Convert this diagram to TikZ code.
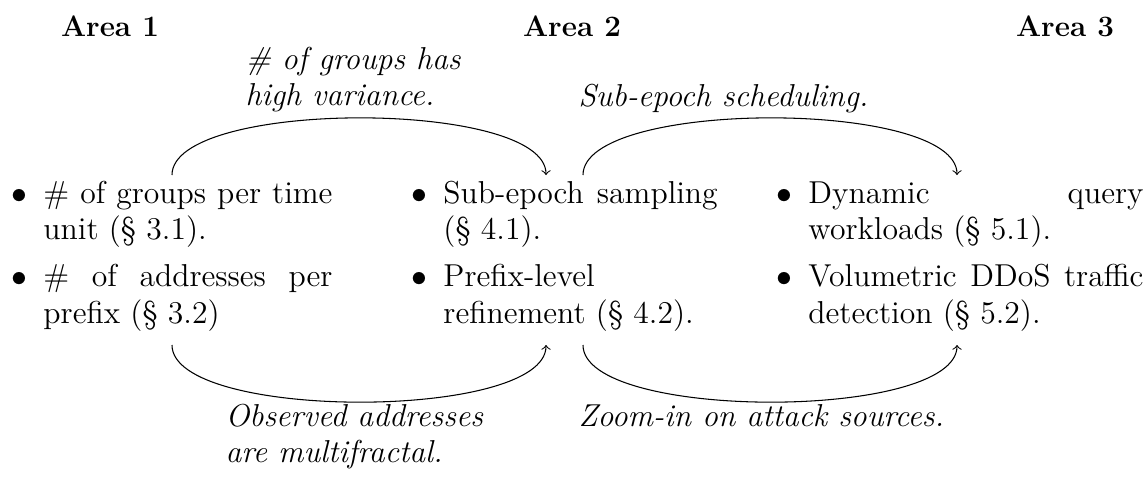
\documentclass[tikz,border=0pt]{standalone}
\tikzset{
  colnode/.style={anchor=base west, inner sep=0pt},
  hdr/.style={anchor=base, inner sep=0pt, font=\fontsize{11.2}{13}\selectfont\bfseries},
  lbl/.style={anchor=base west, inner sep=0pt},
  flow/.style={->, line width=0.4pt},
}
\newcommand{\itm}[1]{\noindent\hangindent=12.1pt\hangafter=1\makebox[12.1pt][l]{$\bullet$}#1\par}
\newcommand{\colbox}[2]{\parbox[t]{#1}{\fontsize{12}{14}\selectfont\setlength{\parskip}{3.5pt}#2}}
\newcommand{\lblbox}[1]{\parbox[t]{160pt}{\fontsize{12}{14}\selectfont\itshape #1}}
\begin{document}
\begin{tikzpicture}[x=0.3788pt,y=-0.3788pt]
\useasboundingbox (0,0) rectangle (1143,479);
% headers
\node[hdr] (h1) at (110,36) {Area 1};
\node[hdr] (h2) at (572,36) {Area 2};
\node[hdr] (h3) at (1065,36) {Area 3};
% columns
\node[colnode] (c1) at (11,203) {\colbox{121.6pt}{%
  \itm{\# of groups per time\linebreak unit (\S~3.1).}%
  \itm{\# of addresses per\linebreak prefix (\S~3.2)}}};
\node[colnode] (c2) at (411,203) {\colbox{116pt}{%
  \itm{Sub-epoch sampling\linebreak (\S~4.1).}%
  \itm{Prefix-level\newline refinement (\S~4.2).}}};
\node[colnode] (c3) at (776,203) {\colbox{139pt}{%
  \itm{Dynamic query\linebreak workloads (\S~5.1).}%
  \itm{Volumetric DDoS traffic\linebreak detection (\S~5.2).}}};
% labels
\node[lbl] (l1) at (245,69) {\lblbox{\# of groups has\\high variance.}};
\node[lbl] (l2) at (578,106) {\lblbox{Sub-epoch scheduling.}};
\node[lbl] (l3) at (225,426) {\lblbox{Observed addresses\\are multifractal.}};
\node[lbl] (l4) at (578,426) {\lblbox{Zoom-in on attack sources.}};
% arc end points
\coordinate (a1s) at (172,175);
\coordinate (a1e) at (546,175);
\coordinate (a2s) at (583,175);
\coordinate (a2e) at (957,175);
\coordinate (a3s) at (172,345);
\coordinate (a3e) at (546,345);
\coordinate (a4s) at (583,345);
\coordinate (a4e) at (957,345);
\draw[flow] (a1s) .. controls +(0,-76) and +(0,-76) .. (a1e);
\draw[flow] (a2s) .. controls +(0,-76) and +(0,-76) .. (a2e);
\draw[flow] (a3s) .. controls +(0,76) and +(0,76) .. (a3e);
\draw[flow] (a4s) .. controls +(0,76) and +(0,76) .. (a4e);
\end{tikzpicture}
\end{document}
